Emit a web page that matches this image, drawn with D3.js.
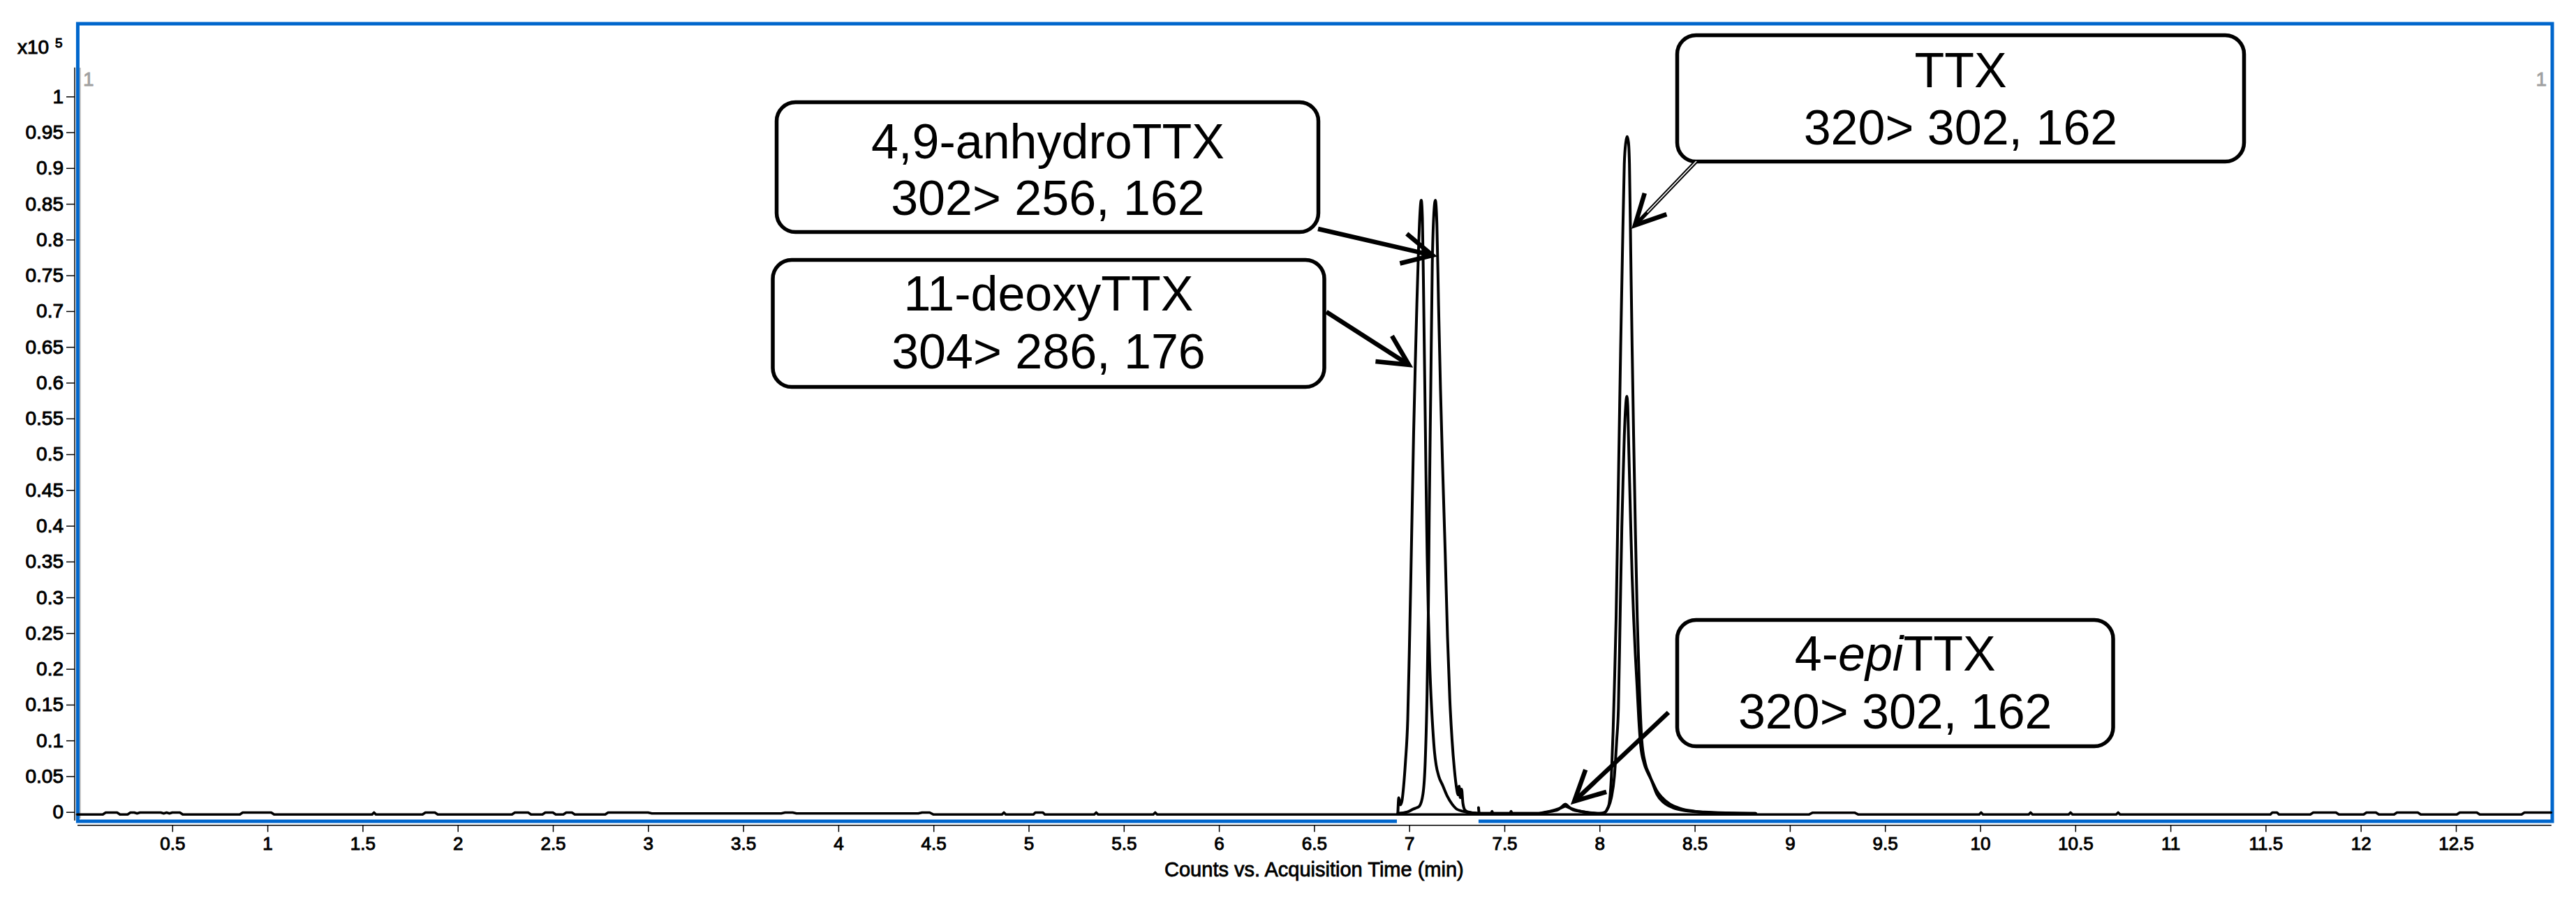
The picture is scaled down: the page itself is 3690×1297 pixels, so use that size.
<!DOCTYPE html>
<html><head><meta charset="utf-8">
<script src="https://cdn.jsdelivr.net/npm/d3@7"></script>
<style>
html,body{margin:0;padding:0;background:#fff;}
svg{display:block;}
text{font-family:"Liberation Sans",Arial,Helvetica,sans-serif;}
</style>
</head><body>
<svg id="chart" width="3690" height="1297"></svg>
<script>
// ---------------- DATA ----------------
// x: acquisition time (min), y: counts in units of 1e5
const xTickValues = [0.5,1,1.5,2,2.5,3,3.5,4,4.5,5,5.5,6,6.5,7,7.5,8,8.5,9,9.5,10,10.5,11,11.5,12,12.5];
const xTickLabels = ["0.5","1","1.5","2","2.5","3","3.5","4","4.5","5","5.5","6","6.5","7","7.5","8","8.5","9","9.5","10","10.5","11","11.5","12","12.5"];
const yTickValues = [0,0.05,0.1,0.15,0.2,0.25,0.3,0.35,0.4,0.45,0.5,0.55,0.6,0.65,0.7,0.75,0.8,0.85,0.9,0.95,1];
const yTickLabels = ["0","0.05","0.1","0.15","0.2","0.25","0.3","0.35","0.4","0.45","0.5","0.55","0.6","0.65","0.7","0.75","0.8","0.85","0.9","0.95","1"];
const xDomain = [0, 13];
const yDomain = [0, 1];

// baseline noise shared by all transitions
const baselineTrace = [
 [0,-0.0035],[0.135,-0.0035],[0.15,-0.0008],[0.21,-0.0008],[0.225,-0.0035],
 [0.265,-0.0035],[0.28,-0.0008],[0.30,-0.0008],[0.315,-0.002],[0.33,-0.0008],[0.44,-0.0008],[0.455,-0.002],[0.47,-0.0008],[0.485,-0.002],[0.50,-0.0008],[0.54,-0.0008],[0.555,-0.0035],
 [0.855,-0.0035],[0.87,-0.0008],[1.02,-0.0008],[1.035,-0.0035],
 [1.55,-0.0035],[1.56,-0.0008],[1.57,-0.0035],
 [1.815,-0.0035],[1.83,-0.0008],[1.88,-0.0008],[1.895,-0.0035],
 [2.285,-0.0035],[2.30,-0.0008],[2.37,-0.0008],[2.385,-0.0035],
 [2.445,-0.0035],[2.46,-0.0008],[2.50,-0.0008],[2.515,-0.0035],
 [2.555,-0.0035],[2.57,-0.0008],[2.60,-0.0008],[2.615,-0.0035],
 [2.775,-0.0035],[2.79,-0.0008],[3.00,-0.0008],[3.02,-0.002],[3.70,-0.002],[3.72,-0.0008],[3.76,-0.0008],[3.78,-0.002],[4.42,-0.002],[4.44,-0.0008],[4.48,-0.0008],[4.50,-0.0035],
 [4.86,-0.0035],[4.87,-0.0008],[4.88,-0.0035],
 [5.025,-0.0035],[5.035,-0.0008],[5.075,-0.0008],[5.085,-0.0035],
 [5.345,-0.0035],[5.355,-0.0008],[5.365,-0.0035],
 [5.655,-0.0035],[5.665,-0.0008],[5.675,-0.0035],
 [9.10,-0.0035],[9.12,-0.001],[9.34,-0.001],[9.36,-0.0035],
 [9.995,-0.0035],[10.005,-0.0008],[10.015,-0.0035],
 [10.255,-0.0035],[10.265,-0.0008],[10.275,-0.0035],
 [10.465,-0.0035],[10.475,-0.0008],[10.485,-0.0035],
 [10.715,-0.0035],[10.725,-0.0008],[10.735,-0.0035],
 [11.525,-0.0035],[11.535,-0.0008],[11.56,-0.0008],[11.57,-0.0035],
 [11.735,-0.0035],[11.75,-0.0008],[11.87,-0.0008],[11.885,-0.0035],
 [12.015,-0.0035],[12.03,-0.0008],[12.08,-0.0008],[12.095,-0.0035],
 [12.175,-0.0035],[12.19,-0.0008],[12.30,-0.0008],[12.315,-0.0035],
 [12.505,-0.0035],[12.52,-0.0008],[12.61,-0.0008],[12.625,-0.0035],
 [12.845,-0.0035],[12.86,-0.0008],[13.0,-0.0008]
];

// 11-deoxyTTX 304>286,176
const deoxyTTX = [
 [6.940,-0.002],[6.945,0.020],[6.953,0.010],[6.962,0.016],[6.970,0.035],[6.980,0.07],[6.992,0.13],[7.000,0.22],[7.007,0.31],
 [7.015,0.42],[7.023,0.53],[7.032,0.63],[7.040,0.71],[7.048,0.78],[7.055,0.83],[7.063,0.855],[7.069,0.83],[7.074,0.75],
 [7.079,0.65],[7.084,0.55],[7.089,0.45],[7.094,0.36],[7.100,0.28],[7.107,0.21],[7.115,0.158],[7.124,0.115],[7.133,0.083],
 [7.141,0.066],[7.155,0.05],[7.176,0.037],[7.200,0.022],[7.225,0.011],[7.250,0.004],[7.300,0.000],[7.364,-0.002]
];

// 4,9-anhydroTTX 302>256,162
const anhydroTTX = [
 [6.940,-0.002],[6.990,0.000],[7.020,0.004],[7.040,0.006],[7.053,0.008],[7.072,0.025],[7.084,0.071],[7.093,0.158],[7.100,0.274],
 [7.105,0.418],[7.113,0.592],[7.121,0.766],[7.129,0.835],[7.137,0.855],[7.145,0.823],[7.154,0.708],[7.164,0.592],
 [7.176,0.476],[7.189,0.361],[7.201,0.245],[7.213,0.158],[7.225,0.100],[7.237,0.060],[7.250,0.031],[7.256,0.024],
 [7.262,0.036],[7.268,0.020],[7.275,0.032],[7.282,0.012],[7.292,0.003],[7.310,0.000],[7.364,-0.002]
];

// TTX 320>302 (quantifier) incl. 4-epiTTX at 7.82 min
const ttxQuant = [
 [7.364,0.006],[7.368,-0.002],[7.430,-0.002],[7.435,0.001],[7.440,-0.002],[7.530,-0.002],[7.535,0.001],[7.540,-0.002],
 [7.680,-0.002],[7.720,0.000],[7.780,0.003],[7.800,0.007],[7.820,0.011],[7.835,0.008],[7.860,0.003],[7.900,0.001],
 [7.950,-0.001],[8.000,-0.002],[8.025,-0.001],[8.040,0.004],[8.050,0.011],[8.062,0.049],[8.071,0.112],[8.078,0.176],
 [8.087,0.272],[8.095,0.398],[8.103,0.525],[8.111,0.652],[8.120,0.779],[8.130,0.906],[8.138,0.936],[8.145,0.944],
 [8.152,0.936],[8.157,0.906],[8.164,0.779],[8.171,0.652],[8.179,0.525],[8.188,0.398],[8.198,0.272],[8.209,0.176],
 [8.222,0.100],[8.240,0.068],[8.262,0.052],[8.279,0.040],[8.301,0.025],[8.338,0.013],[8.386,0.006],[8.448,0.002],
 [8.550,0.000],[8.820,-0.002]
];

// TTX 320>162 (qualifier)
const ttxQual = [
 [7.364,-0.002],[7.680,-0.002],[7.740,0.001],[7.800,0.006],[7.820,0.008],[7.840,0.006],[7.900,0.001],[8.000,-0.002],
 [8.030,0.000],[8.045,0.006],[8.062,0.020],[8.078,0.050],[8.090,0.100],[8.099,0.145],[8.108,0.272],[8.117,0.398],
 [8.124,0.470],[8.130,0.525],[8.137,0.566],[8.143,0.581],[8.148,0.568],[8.152,0.525],[8.158,0.460],[8.164,0.398],
 [8.171,0.330],[8.179,0.272],[8.188,0.220],[8.197,0.176],[8.206,0.130],[8.216,0.093],[8.234,0.068],[8.255,0.054],
 [8.276,0.043],[8.300,0.030],[8.325,0.021],[8.370,0.011],[8.423,0.005],[8.500,0.001],[8.600,-0.001],[8.820,-0.002]
];

// annotation texts and the data point each arrow points at
const annotationNames = ["4,9-anhydroTTX","11-deoxyTTX","TTX","4-epiTTX"];
const annotationTransitions = ["302> 256, 162","304> 286, 176","320> 302, 162","320> 302, 162"];
const annotationTips = [[7.122,0.778],[6.998,0.625],[8.186,0.820],[7.867,0.015]];

// ---------------- LAYOUT ----------------
const W = 3690, H = 1297;
const plot = {left:110.5, right:3654.3, zeroY:1163.7, oneY:138.3};
const boxes = [
  {x:1112.5, y:146.5, w:776, h:186, cx:1501, b1:226.7, b2:308.3, from:[1888,328]},
  {x:1107,   y:372.5, w:790, h:182, cx:1502, b1:445,   b2:528.3, from:[1900,447]},
  {x:2402.5, y:50.5,  w:812, h:181, cx:2808.5, b1:125, b2:207.3, from:[2430,231], hollow:true},
  {x:2402.5, y:888.5, w:624.5, h:181, cx:2714.7, b1:960.7, b2:1044, from:[2390,1021]}
];

const svg = d3.select("#chart");
svg.append("rect").attr("width",W).attr("height",H).attr("fill","#fff");

const x = d3.scaleLinear().domain(xDomain).range([plot.left, plot.right]);
const y = d3.scaleLinear().domain(yDomain).range([plot.zeroY, plot.oneY]);

// blue frame
svg.append("rect").attr("x",111.4).attr("y",34).attr("width",3544.6).attr("height",1143)
  .attr("fill","none").attr("stroke","#0066cc").attr("stroke-width",5);
// pasted segment hides the blue line
svg.append("rect").attr("x",x(6.935)).attr("y",1172).attr("width",x(7.364)-x(6.935)).attr("height",9).attr("fill","#fff");
// gray inner line
svg.append("line").attr("x1",114.8).attr("x2",114.8).attr("y1",97).attr("y2",1173)
  .attr("stroke","#a0a0a0").attr("stroke-width",1.3);

// y axis
const yAxisG = svg.append("g").attr("transform","translate(107,0)")
  .call(d3.axisLeft(y).tickValues(yTickValues).tickFormat((d,i)=>yTickLabels[i])
        .tickSize(12).tickPadding(4).tickSizeOuter(0));
yAxisG.select(".domain").remove();
yAxisG.append("line").attr("x1",0).attr("x2",0).attr("y1",y(1.0405)).attr("y2",y(-0.012))
  .attr("stroke","#000").attr("stroke-width",1.5);
yAxisG.selectAll(".tick line").attr("stroke","#000").attr("stroke-width",1.5);
yAxisG.selectAll(".tick text").attr("font-size",28).attr("fill","#000")
  .attr("font-family","'Liberation Sans',Arial,sans-serif")
  .attr("stroke","#000").attr("stroke-width",1.0);

// x axis
const xAxisG = svg.append("g").attr("transform","translate(0,1182.3)")
  .call(d3.axisBottom(x).tickValues(xTickValues).tickFormat((d,i)=>xTickLabels[i])
        .tickSize(10).tickPadding(7).tickSizeOuter(0));
xAxisG.select(".domain").attr("stroke","#000").attr("stroke-width",1.5);
xAxisG.selectAll(".tick line").attr("stroke","#000").attr("stroke-width",1.5);
xAxisG.selectAll(".tick text").attr("font-size",26).attr("fill","#000")
  .attr("font-family","'Liberation Sans',Arial,sans-serif")
  .attr("stroke","#000").attr("stroke-width",1.0);

// axis title and multiplier
svg.append("text").attr("x",x(6.5)).attr("y",1256).attr("text-anchor","middle")
  .attr("font-size",29).attr("fill","#000").attr("stroke","#000").attr("stroke-width",0.8)
  .text("Counts vs. Acquisition Time (min)");
const mult = svg.append("text").attr("x",25).attr("y",77).attr("font-size",28).attr("fill","#000")
  .attr("stroke","#000").attr("stroke-width",1.0);
mult.append("tspan").text("x10");
mult.append("tspan").attr("x",79).attr("y",68).attr("font-size",19).text("5");

// gray "1" markers
svg.append("text").attr("x",119).attr("y",123).attr("font-size",28).attr("fill","#a0a0a0")
  .attr("stroke","#a0a0a0").attr("stroke-width",0.8).text("1");
svg.append("text").attr("x",3648).attr("y",123).attr("font-size",28).attr("fill","#a0a0a0")
  .attr("stroke","#a0a0a0").attr("stroke-width",0.8).attr("text-anchor","end").text("1");

// traces
const lineLin = d3.line().x(d=>x(d[0])).y(d=>y(d[1]));
const lineCurve = d3.line().x(d=>x(d[0])).y(d=>y(d[1])).curve(d3.curveMonotoneX);
const traceG = svg.append("g").attr("fill","none").attr("stroke","#000")
  .attr("stroke-linejoin","round").attr("stroke-linecap","round");
traceG.append("path").attr("d",lineLin(baselineTrace)).attr("stroke-width",3.6);
[ttxQual, ttxQuant, deoxyTTX, anhydroTTX].forEach(s=>{
  traceG.append("path").attr("d",lineCurve(s)).attr("stroke-width",4);
});

// annotation boxes and arrows
const annG = svg.append("g");
boxes.forEach((b,i)=>{
  annG.append("rect").attr("x",b.x).attr("y",b.y).attr("width",b.w).attr("height",b.h)
    .attr("rx",27).attr("ry",27).attr("fill","#fff").attr("stroke","#000").attr("stroke-width",5.5);
  const t1 = annG.append("text").attr("x",b.cx).attr("y",b.b1).attr("text-anchor","middle")
    .attr("font-size",70).attr("fill","#000");
  const nm = annotationNames[i];
  if (nm.indexOf("epi")>=0) {
    const parts = nm.split("epi");
    t1.append("tspan").text(parts[0]);
    t1.append("tspan").attr("font-style","italic").text("epi");
    t1.append("tspan").text(parts[1]);
  } else t1.text(nm);
  annG.append("text").attr("x",b.cx).attr("y",b.b2).attr("text-anchor","middle")
    .attr("font-size",70).attr("fill","#000").text(annotationTransitions[i]);

  // arrow
  const sx=b.from[0], sy=b.from[1];
  const tx=x(annotationTips[i][0]), ty=y(annotationTips[i][1]);
  const ang=Math.atan2(sy-ty, sx-tx), L=48, a=27*Math.PI/180;
  const b1=[tx+L*Math.cos(ang+a), ty+L*Math.sin(ang+a)];
  const b2=[tx+L*Math.cos(ang-a), ty+L*Math.sin(ang-a)];
  annG.append("line").attr("x1",sx).attr("y1",sy).attr("x2",tx).attr("y2",ty)
    .attr("stroke","#000").attr("stroke-width",b.hollow?5.5:6.5);
  if (b.hollow) {
    annG.append("line").attr("x1",sx).attr("y1",sy)
      .attr("x2",sx+(tx-sx)*0.8).attr("y2",sy+(ty-sy)*0.8)
      .attr("stroke","#fff").attr("stroke-width",1.6);
  }
  annG.append("path").attr("d",`M${b1[0]},${b1[1]}L${tx},${ty}L${b2[0]},${b2[1]}`)
    .attr("fill","none").attr("stroke","#000").attr("stroke-width",6.5).attr("stroke-linejoin","miter");
});
</script>
</body></html>
